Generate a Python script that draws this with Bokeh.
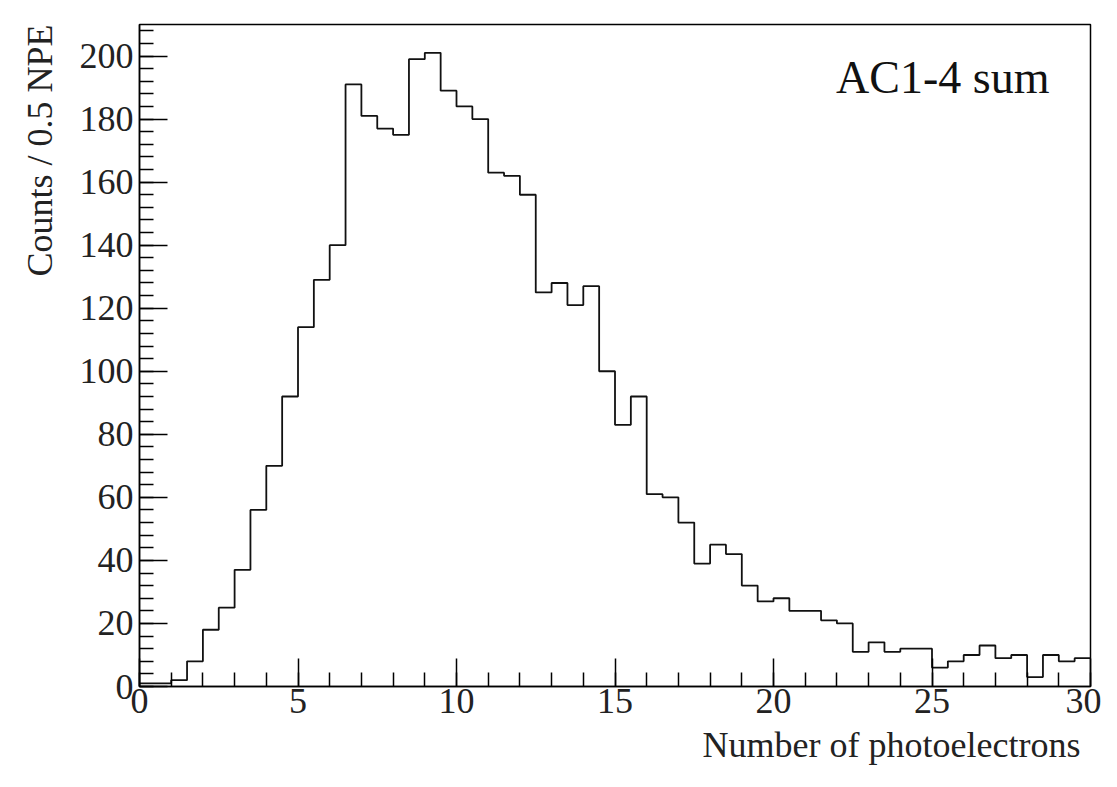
import numpy as np
from bokeh.plotting import figure
from bokeh.models import Label, Range1d, FixedTicker, Title
from bokeh.embed import file_html
from bokeh.resources import INLINE

bin_width = 0.5
counts = [1, 1, 2, 8, 18, 25, 37, 56, 70, 92, 114, 129, 140, 191, 181, 177, 175, 199, 201, 189,
          184, 180, 163, 162, 156, 125, 128, 121, 127, 100, 83, 92, 61, 60, 52, 39, 45, 42, 32, 27,
          28, 24, 24, 21, 20, 11, 14, 11, 12, 12, 6, 8, 10, 13, 9, 10, 3, 10, 8, 9]
x_ticks = [0, 5, 10, 15, 20, 25, 30]
y_ticks = [0, 20, 40, 60, 80, 100, 120, 140, 160, 180, 200]

edges = np.arange(len(counts) + 1) * bin_width
xs = np.repeat(edges, 2)[1:-1]
ys = np.repeat(counts, 2)

FONT = "Liberation Serif"
p = figure(width=1101, height=771, output_backend="svg", toolbar_location=None,
           x_range=Range1d(0, 30), y_range=Range1d(0, 210),
           min_border_left=4, min_border_top=24, min_border_right=11, min_border_bottom=10)
p.grid.visible = False
p.outline_line_color = "black"
p.outline_line_width = 1.5
p.line(xs, ys, color="#111111", line_width=1.8)

for ax in (p.xaxis[0], p.yaxis[0]):
    ax.major_label_text_font = FONT
    ax.major_label_text_font_size = "36px"
    ax.major_label_text_color = "#222222"
    ax.major_tick_in = 28
    ax.major_tick_out = 0
    ax.minor_tick_in = 14
    ax.minor_tick_out = 0
    ax.axis_line_width = 1.5
    ax.major_tick_line_width = 1.5
    ax.minor_tick_line_width = 1.5

p.xaxis.ticker = FixedTicker(ticks=x_ticks, minor_ticks=list(np.arange(0, 31, 1.0)))
p.yaxis.ticker = FixedTicker(ticks=y_ticks, minor_ticks=list(np.arange(0, 211, 4.0)))
p.xaxis.major_label_standoff = 2
p.yaxis.major_label_standoff = 6

p.add_layout(Title(text="Number of photoelectrons", align="right", text_font=FONT,
                   text_font_size="36px", text_font_style="normal", text_color="#222222",
                   offset=10, standoff=14), "below")
p.add_layout(Title(text="Counts / 0.5 NPE", align="right", text_font=FONT,
                   text_font_size="36px", text_font_style="normal", text_color="#222222",
                   offset=0, standoff=34), "left")
p.add_layout(Label(x=1050 - 140, y=686 - 102, x_units="screen", y_units="screen",
                   text="AC1-4 sum", text_font=FONT, text_font_size="46px",
                   text_align="right", text_color="#111111"))

open("out.html", "w").write(file_html(p, INLINE))
